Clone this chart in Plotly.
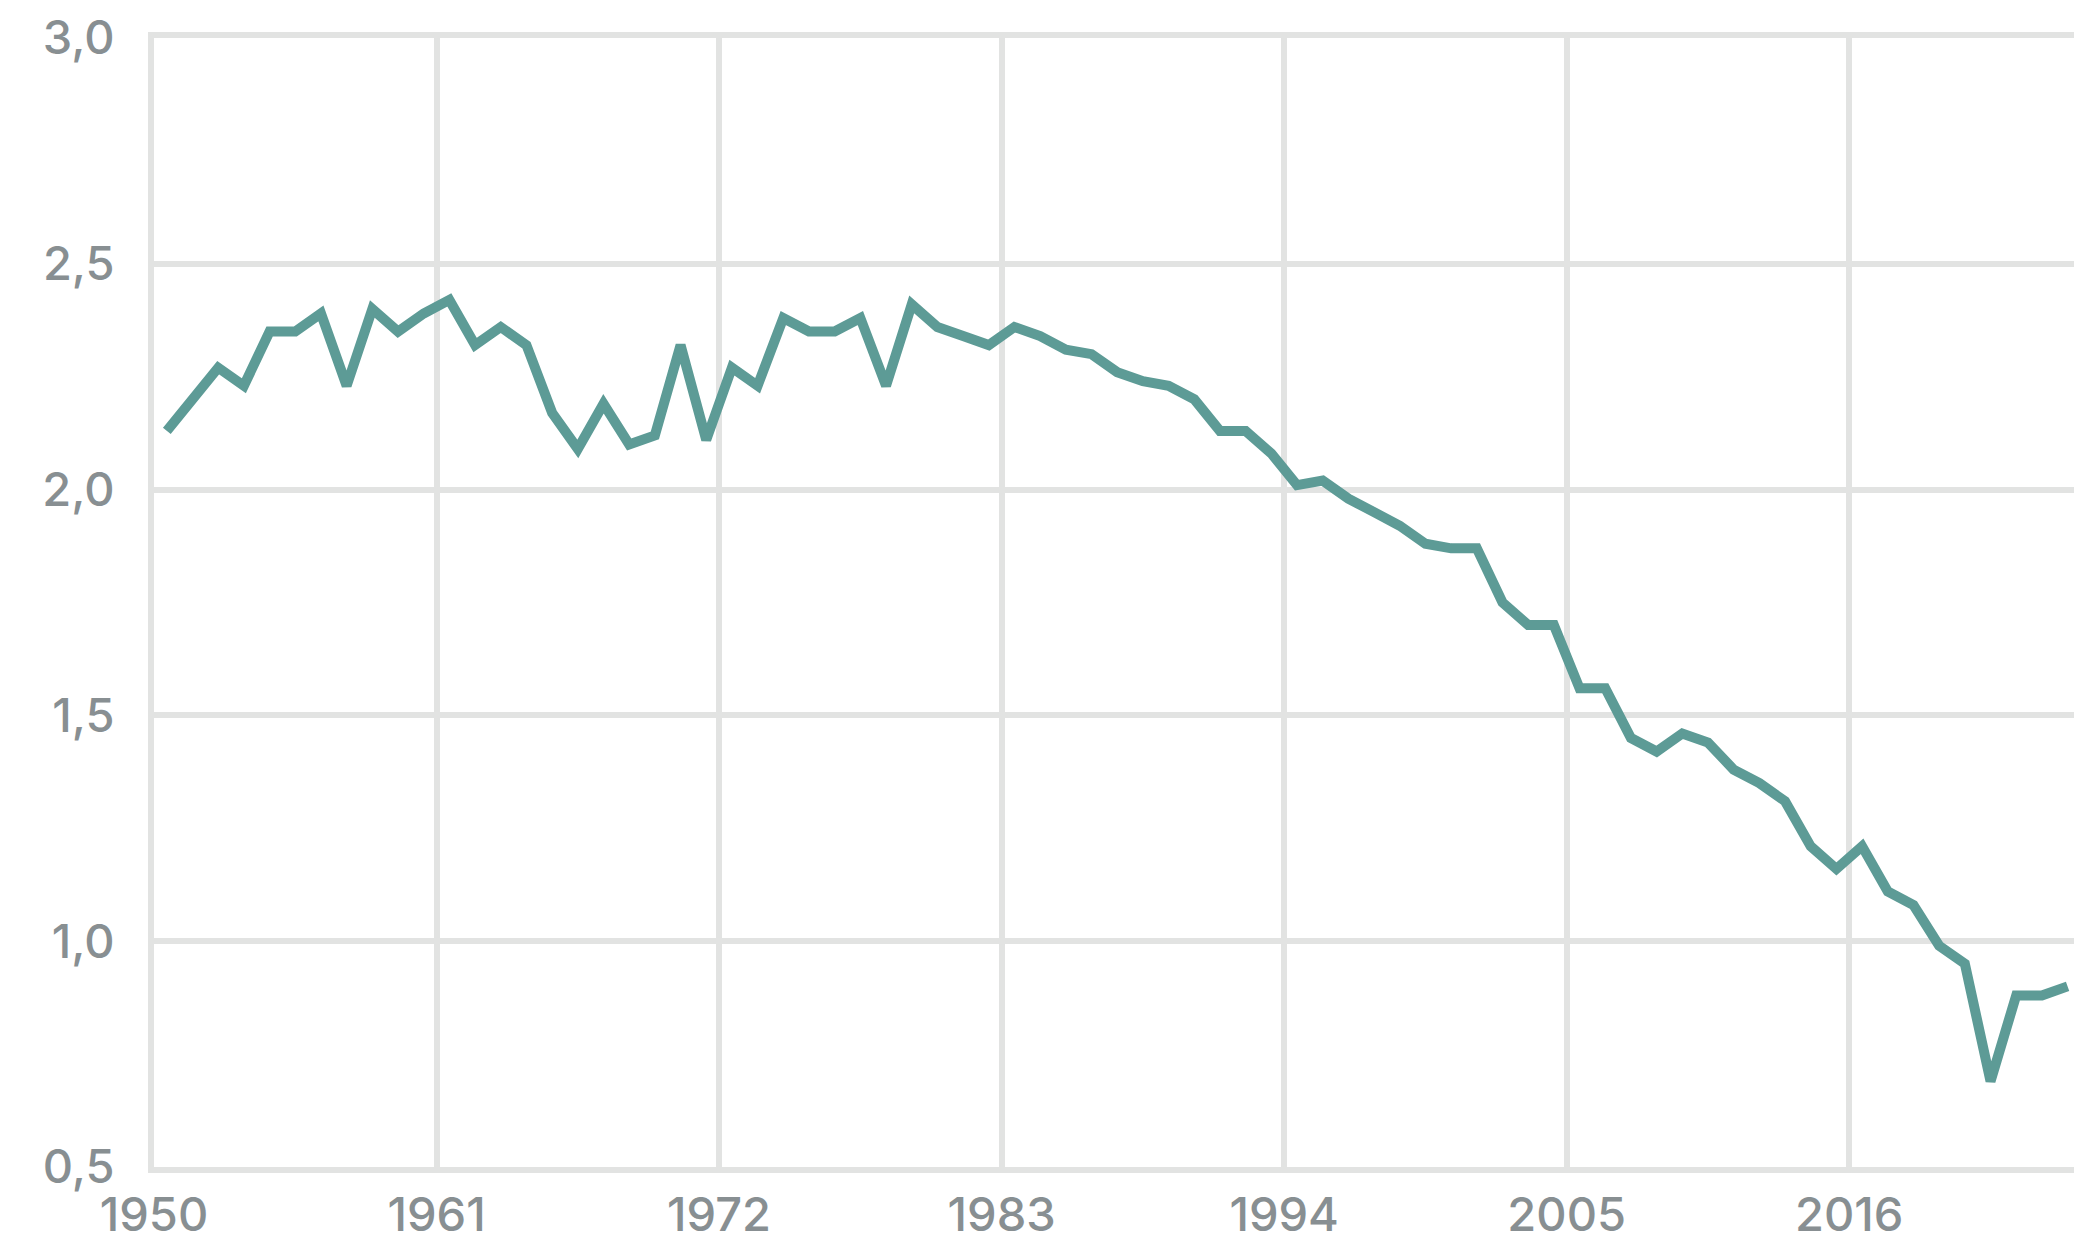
import plotly.graph_objects as go

# yearly values
years = list(range(1950, 2025))
values = [
    2.13, 2.20, 2.27, 2.23, 2.35, 2.35, 2.39, 2.23, 2.40, 2.35,  # 1950s
    2.39, 2.42, 2.32, 2.36, 2.32, 2.17, 2.09, 2.19, 2.10, 2.12,  # 1960s
    2.32, 2.11, 2.27, 2.23, 2.38, 2.35, 2.35, 2.38, 2.23, 2.41,  # 1970s
    2.36, 2.34, 2.32, 2.36, 2.34, 2.31, 2.30, 2.26, 2.24, 2.23,  # 1980s
    2.20, 2.13, 2.13, 2.08, 2.01, 2.02, 1.98, 1.95, 1.92, 1.88,  # 1990s
    1.87, 1.87, 1.75, 1.70, 1.70, 1.56, 1.56, 1.45, 1.42, 1.46,  # 2000s
    1.44, 1.38, 1.35, 1.31, 1.21, 1.16, 1.21, 1.11, 1.08, 0.99,  # 2010s
    0.95, 0.69, 0.88, 0.88, 0.90,                                # 2020s
]
x_ticks = [1950, 1961, 1972, 1983, 1994, 2005, 2016]
y_ticks = [0.5, 1.0, 1.5, 2.0, 2.5, 3.0]

line_color = "#5d9b96"
grid_color = "#e2e3e2"
label_font = dict(family="Inter, Roboto, sans-serif", size=47, weight=500, color="#888f92")

# points sit in the middle of each year
x_vals = [y + 0.5 for y in years]

fig = go.Figure()
fig.add_trace(go.Scatter(x=x_vals, y=values, mode="lines",
                         line=dict(color=line_color, width=10),
                         hoverinfo="skip", showlegend=False))

# the page has an 8px body margin, margins below account for it
fig.update_layout(width=2089, height=1245,
                  margin=dict(l=146, r=23, t=30, b=86),
                  plot_bgcolor="white", paper_bgcolor="white",
                  separators=", ", font=label_font)
# edge grid lines (1950, 0,5 and 3,0) come from the axis lines
fig.update_xaxes(range=[1950, 2024.75], tickvals=x_ticks, showgrid=True,
                 gridcolor=grid_color, gridwidth=6, zeroline=False,
                 showline=True, mirror=True, linecolor=grid_color, linewidth=6,
                 ticks="", ticklabelstandoff=2, tickfont=label_font,
                 automargin=False)
fig.update_yaxes(range=[0.5, 3.0], tickvals=y_ticks, tickformat=".1f",
                 showgrid=True, gridcolor=grid_color, gridwidth=6,
                 zeroline=False, showline=True, linecolor=grid_color, linewidth=6,
                 ticks="", ticklabelstandoff=24, tickfont=label_font,
                 automargin=False)

fig.write_html("out.html")
